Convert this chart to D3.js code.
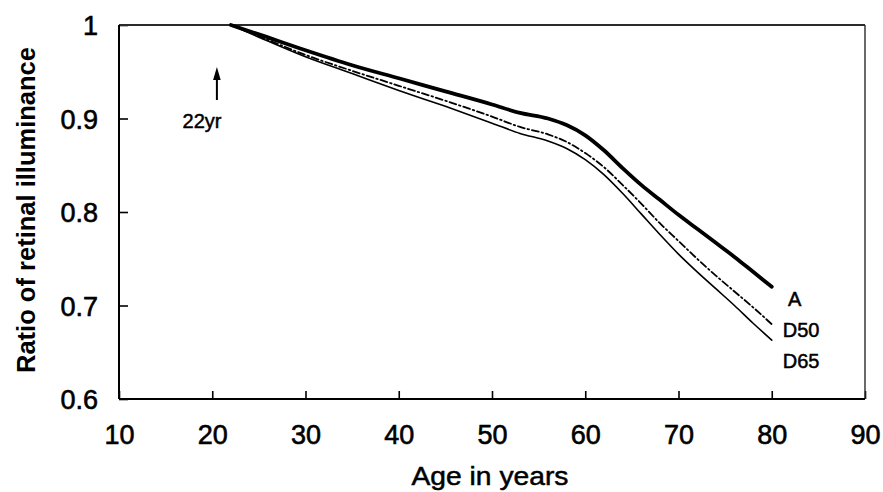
<!DOCTYPE html>
<html>
<head>
<meta charset="utf-8">
<script src="https://cdn.jsdelivr.net/npm/d3@7"></script>
<style>
  html, body { margin: 0; padding: 0; background: #ffffff; }
  svg { display: block; }
</style>
</head>
<body>
<script>
// Age axis (years) and relative retinal illuminance for three illuminants
const ages      = [22, 25, 30, 35, 40, 45, 50, 53, 56, 58, 60, 62, 64, 66, 68, 70, 72, 74, 76, 78, 80];
const seriesA   = [1.000, 0.990, 0.973, 0.957, 0.943, 0.929, 0.915, 0.906, 0.900, 0.893, 0.882, 0.866, 0.847, 0.829, 0.813, 0.797, 0.782, 0.767, 0.752, 0.736, 0.720];
const seriesD50 = [1.000, 0.988, 0.968, 0.951, 0.935, 0.919, 0.902, 0.891, 0.883, 0.875, 0.863, 0.848, 0.829, 0.809, 0.788, 0.769, 0.750, 0.732, 0.715, 0.698, 0.680];
const seriesD65 = [1.000, 0.987, 0.966, 0.948, 0.930, 0.913, 0.895, 0.884, 0.876, 0.868, 0.856, 0.840, 0.820, 0.798, 0.776, 0.755, 0.736, 0.718, 0.700, 0.681, 0.663];
const seriesNames = ["A", "D50", "D65"];

const xTicks = [10, 20, 30, 40, 50, 60, 70, 80, 90];
const yTicks = [0.6, 0.7, 0.8, 0.9, 1];
const xDomain = [10, 90];
const yDomain = [0.6, 1];
const xTitle = "Age in years";
const yTitle = "Ratio of retinal illuminance";
const markerAge = 22;
const markerLabel = "22yr";

const W = 883, H = 492;
const margin = { top: 25, right: 18, bottom: 93, left: 119 };
const innerW = W - margin.left - margin.right;
const innerH = H - margin.top - margin.bottom;

const svg = d3.select("body").append("svg")
  .attr("width", W).attr("height", H)
  .attr("viewBox", `0 0 ${W} ${H}`);

svg.append("rect").attr("width", W).attr("height", H).attr("fill", "#ffffff");

const x = d3.scaleLinear().domain(xDomain).range([0, innerW]);
const y = d3.scaleLinear().domain(yDomain).range([innerH, 0]);

const g = svg.append("g").attr("transform", `translate(${margin.left},${margin.top})`);

const font = "'Liberation Sans', Arial, Helvetica, sans-serif";

// axes with inward ticks
const yAxis = d3.axisLeft(y)
  .tickValues(yTicks)
  .tickSize(-9)
  .tickSizeOuter(0)
  .tickPadding(21)
  .tickFormat(d => d === 1 ? "1" : d3.format(".1f")(d));
const yG = g.append("g").call(yAxis);
yG.select(".domain").remove();
yG.selectAll(".tick line").attr("stroke", "#000").attr("stroke-width", 1.6);
yG.selectAll(".tick text")
  .attr("font-family", font).attr("font-size", 27)
  .attr("fill", "#000").attr("stroke", "#000").attr("stroke-width", 0.6)
  .attr("dy", "0.36em");

const xAxis = d3.axisBottom(x)
  .tickValues(xTicks)
  .tickSize(-8)
  .tickSizeOuter(0)
  .tickFormat(d3.format("d"));
const xG = g.append("g").attr("transform", `translate(0,${innerH})`).call(xAxis);
xG.select(".domain").remove();
xG.selectAll(".tick line").attr("stroke", "#000").attr("stroke-width", 1.6);
xG.selectAll(".tick text")
  .attr("font-family", font).attr("font-size", 27)
  .attr("fill", "#000").attr("stroke", "#000").attr("stroke-width", 0.6)
  .attr("y", 45).attr("dy", 0);

// plot frame
g.append("line").attr("x1", 0).attr("x2", innerW).attr("y1", 0).attr("y2", 0)
  .attr("stroke", "#2a2a2a").attr("stroke-width", 1.8);
g.append("line").attr("x1", innerW).attr("x2", innerW).attr("y1", 0).attr("y2", innerH)
  .attr("stroke", "#2a2a2a").attr("stroke-width", 1.4);
g.append("line").attr("x1", 0).attr("x2", 0).attr("y1", 0).attr("y2", innerH)
  .attr("stroke", "#000").attr("stroke-width", 2);
g.append("line").attr("x1", 0).attr("x2", innerW).attr("y1", innerH).attr("y2", innerH)
  .attr("stroke", "#000").attr("stroke-width", 2);

// curves
const line = d3.line()
  .x((d, i) => x(ages[i]))
  .y(d => y(d))
  .curve(d3.curveMonotoneX);

const styles = {
  A:   { width: 3.8, dash: null },
  D50: { width: 1.8, dash: "7,3,1.5,3" },
  D65: { width: 1.6, dash: null }
};
const seriesData = { A: seriesA, D50: seriesD50, D65: seriesD65 };

seriesNames.forEach(name => {
  g.append("path")
    .datum(seriesData[name])
    .attr("fill", "none")
    .attr("stroke", "#000")
    .attr("stroke-width", styles[name].width)
    .attr("stroke-linecap", "round")
    .attr("stroke-linejoin", "round")
    .attr("stroke-dasharray", styles[name].dash)
    .attr("d", line);
});

// series labels at the right end of the curves
const lastAge = ages[ages.length - 1];
const labelPos = [
  { name: "A",   dx: 23, baseline: 306, anchor: "middle" },
  { name: "D50", dx: 11, baseline: 337, anchor: "start" },
  { name: "D65", dx: 11, baseline: 368, anchor: "start" }
];
labelPos.forEach(p => {
  svg.append("text")
    .attr("x", margin.left + x(lastAge) + p.dx)
    .attr("y", p.baseline)
    .attr("text-anchor", p.anchor)
    .attr("font-family", font).attr("font-size", 20)
    .attr("fill", "#000").attr("stroke", "#000").attr("stroke-width", 0.5)
    .text(p.name);
});

// 22-year marker arrow
const ax = margin.left + x(markerAge) - 14;
svg.append("line")
  .attr("x1", ax).attr("x2", ax)
  .attr("y1", 100).attr("y2", 76)
  .attr("stroke", "#000").attr("stroke-width", 2);
svg.append("path")
  .attr("d", `M${ax},67 L${ax + 3.8},80 L${ax - 3.8},80 Z`)
  .attr("fill", "#000");
svg.append("text")
  .attr("x", 202).attr("y", 128)
  .attr("text-anchor", "middle")
  .attr("font-family", font).attr("font-size", 20)
  .attr("fill", "#000").attr("stroke", "#000").attr("stroke-width", 0.5)
  .text(markerLabel);

// axis titles
svg.append("text")
  .attr("x", margin.left + innerW / 2 - 2)
  .attr("y", 485)
  .attr("text-anchor", "middle")
  .attr("font-family", font).attr("font-size", 26)
  .attr("textLength", 157).attr("lengthAdjust", "spacingAndGlyphs")
  .attr("fill", "#000").attr("stroke", "#000").attr("stroke-width", 0.5)
  .text(xTitle);

svg.append("text")
  .attr("transform", "translate(35,210) rotate(-90)")
  .attr("text-anchor", "middle")
  .attr("font-family", font).attr("font-size", 25).attr("font-weight", "bold")
  .attr("textLength", 326).attr("lengthAdjust", "spacingAndGlyphs")
  .attr("fill", "#000")
  .text(yTitle);
</script>
</body>
</html>
